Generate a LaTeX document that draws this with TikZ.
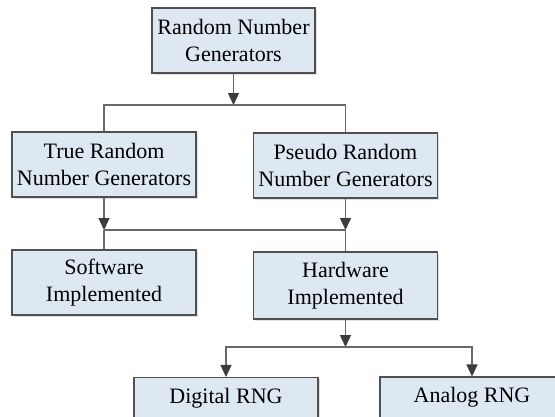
\documentclass[tikz,border=0pt]{standalone}
\usepackage{fontspec}
\setmainfont{Liberation Serif}
\usepackage{tikz}
\usetikzlibrary{arrows.meta,shadows,positioning}

\definecolor{boxfill}{RGB}{222,232,243}
\definecolor{boxline}{RGB}{80,80,80}
\definecolor{wire}{RGB}{105,105,105}
\definecolor{tipfill}{RGB}{60,60,60}

\begin{document}
\begin{tikzpicture}[x=1pt,y=-1pt]
			\tikzstyle{Box}		= [draw=boxline, line width=1.1pt, fill=boxfill, align=center, inner sep=0pt,
								   font=\fontsize{22}{27}\selectfont,
								   drop shadow={shadow xshift=1.5pt, shadow yshift=-1.5pt, fill=black!25}]
			\tikzstyle{Big}		= [minimum width=184pt, minimum height=65pt]
			\tikzstyle{Small}	= [minimum width=184pt, minimum height=41pt]
			\tikzstyle{Wire}		= [draw=wire, line width=1.4pt]
			\tikzstyle{Arr}		= [Wire, -{Triangle[width=11pt,length=12pt,fill=tipfill,color=tipfill]}]
			
			\useasboundingbox (0,0) rectangle (555,416);
			
			\node (rng) at (233.5,40.5) [Box][minimum width=163pt, minimum height=65pt] {Random Number\\Generators};
			
			\node (trng) at (104,164.5) [Box][Big] {True Random\\Number Generators};
			\node (prng) at (345.5,165.5) [Box][Big] {Pseudo Random\\Number Generators};
			
			\node (sw) at (104,282.5) [Box][Big] {Software\\Implemented};
			\node (hw) at (345.5,285.5) [Box][Big, minimum height=67pt] {Hardware\\Implemented};
			
			\node (dig) at (226,398) [Box][Small] {Digital RNG};
			\node (ana) at (472,397.5) [Box][Small] {Analog RNG};
			
			\coordinate (j1) at (233.5,105);
			\coordinate (j2) at (104,230);
			\coordinate (j3) at (345.5,230);
			\coordinate (j4) at (345.5,347);
			
			\draw [Arr] (rng) -- (j1);
			\draw [Wire] (trng.north) |- (j1) -| (prng.north);
			
			\draw [Arr] (trng) -- (j2);
			\draw [Arr] (prng) -- (j3);
			\draw [Wire] (j2) -- (j3);
			\draw [Wire] (j2) -- (sw);
			\draw [Wire] (j3) -- (hw);
			
			\draw [Arr] (hw) -- (j4);
			\draw [Arr] (j4) -| (dig);
			\draw [Arr] (j4) -| (ana);
		\end{tikzpicture}
\end{document}
